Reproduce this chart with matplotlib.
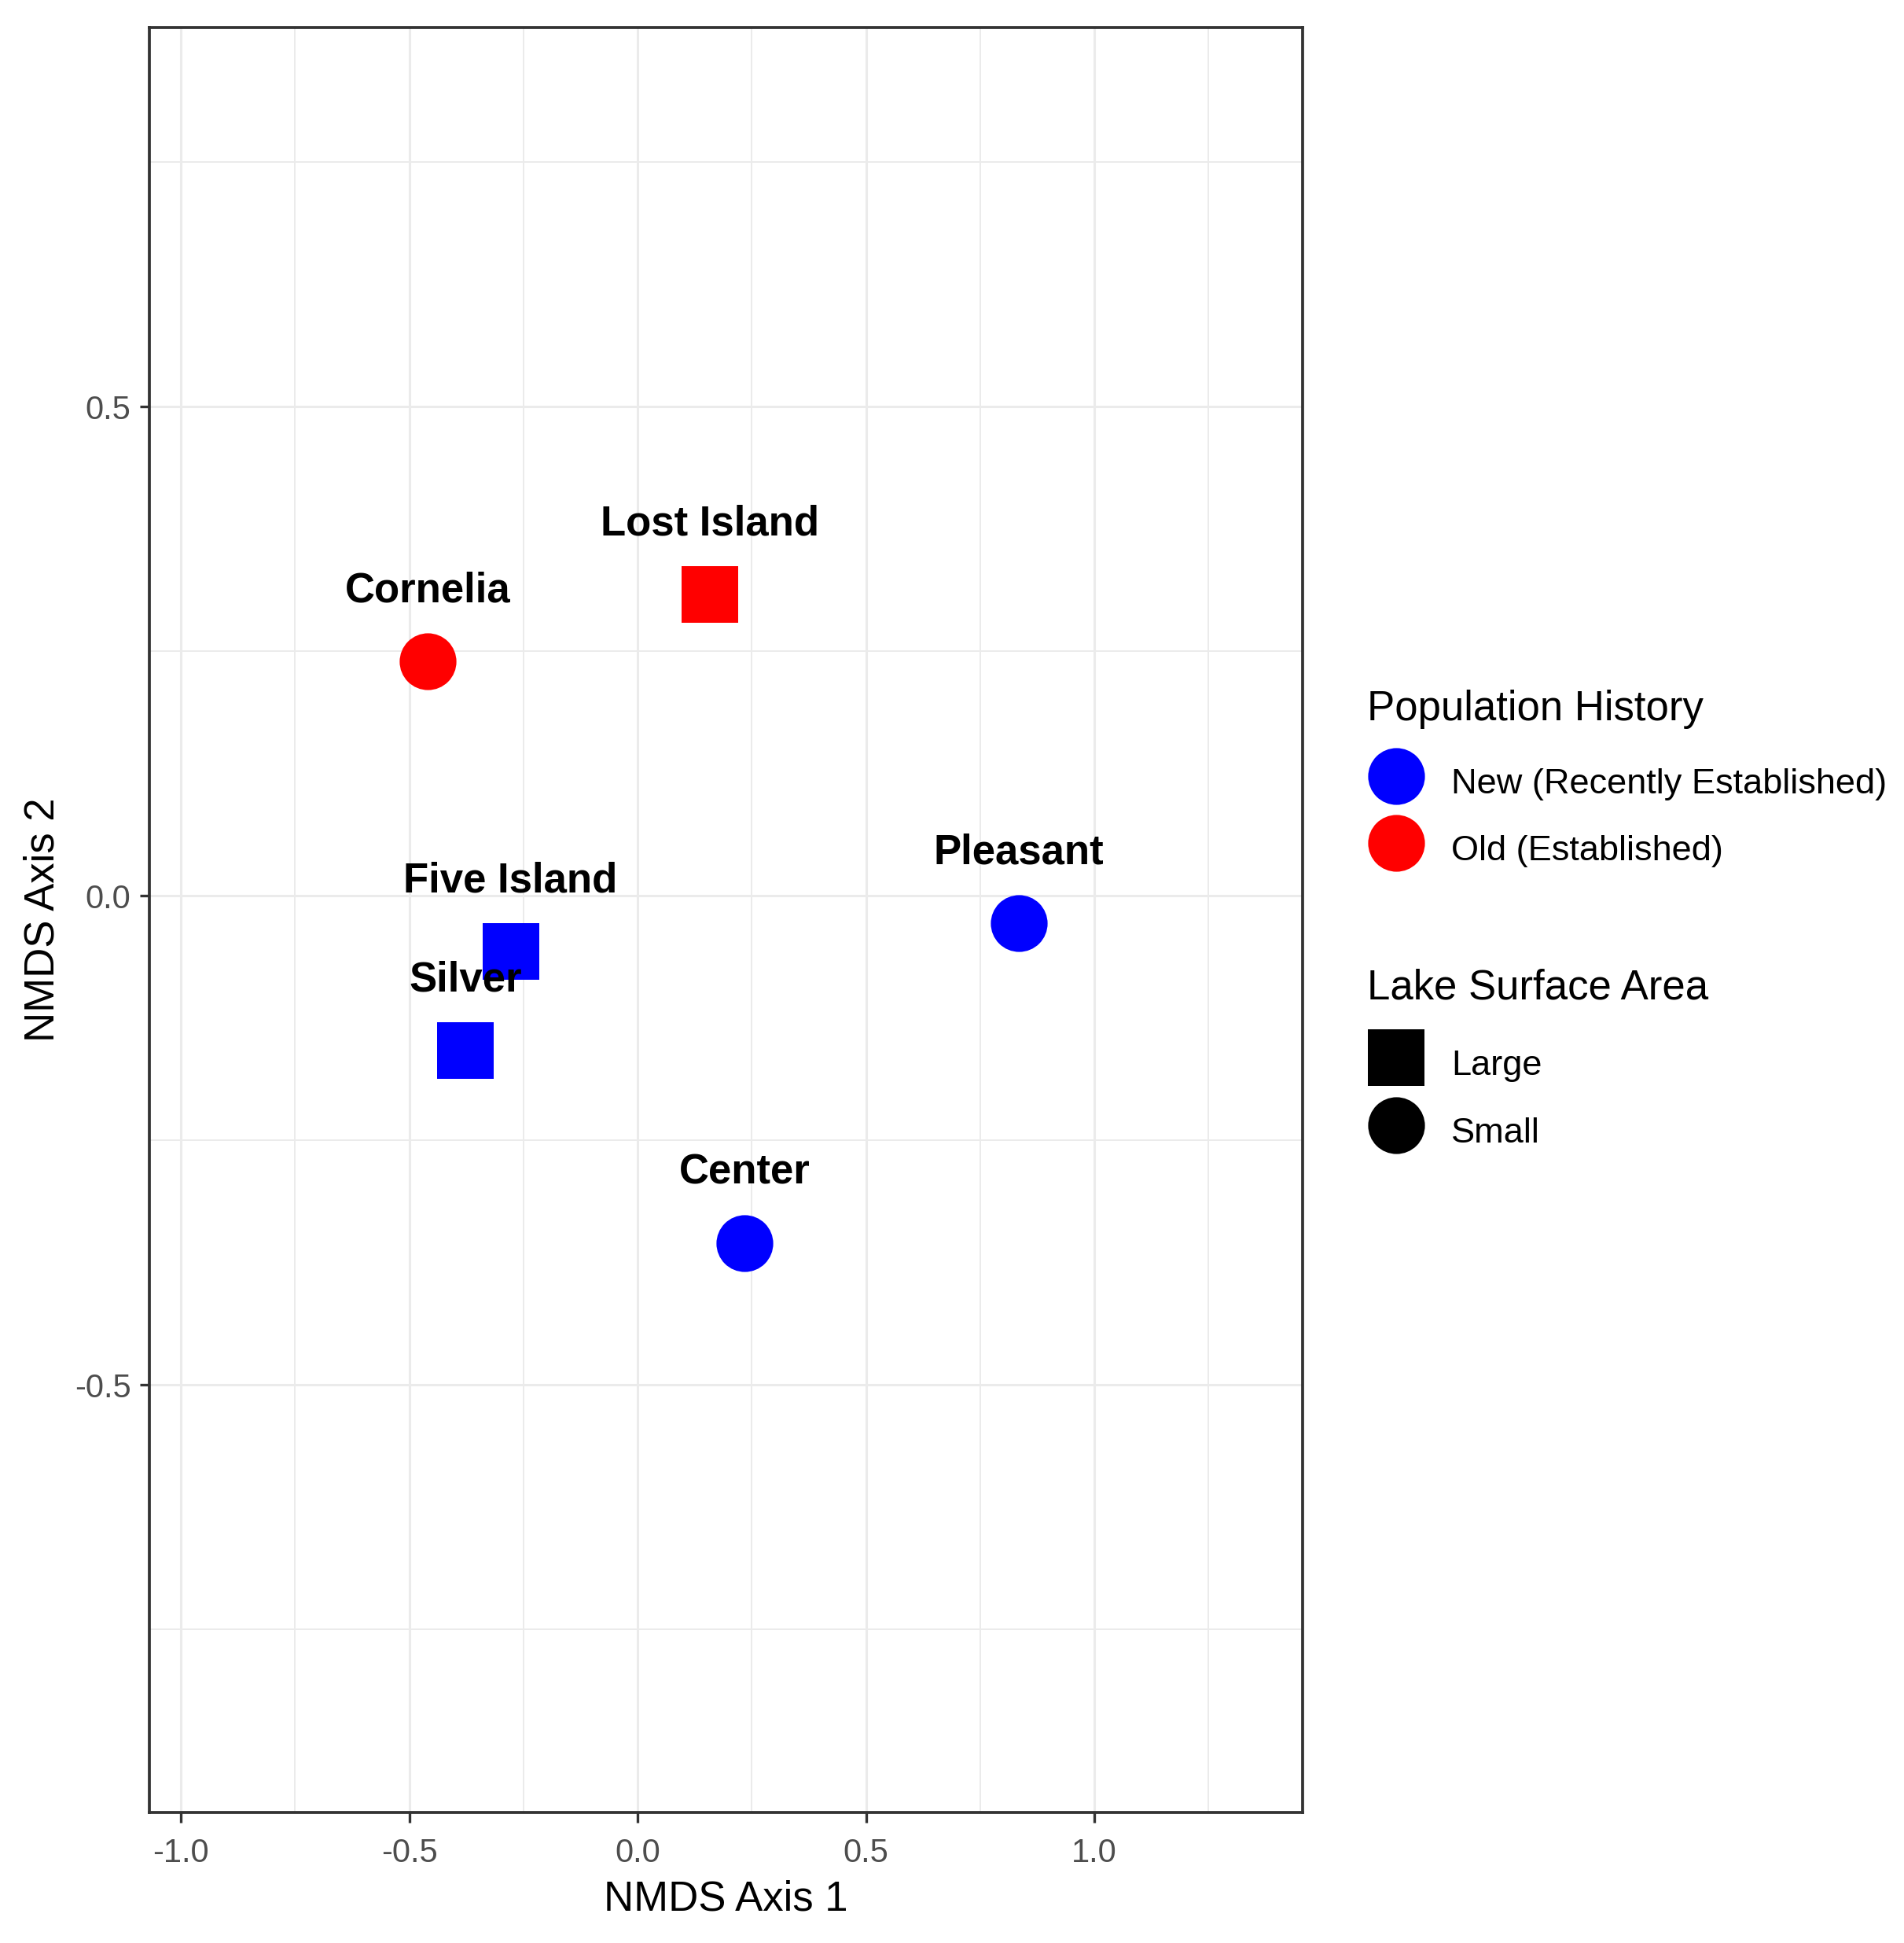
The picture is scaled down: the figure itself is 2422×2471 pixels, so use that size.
import matplotlib
matplotlib.use('Agg')
import matplotlib.pyplot as plt
from matplotlib.lines import Line2D
from matplotlib.ticker import FixedLocator, FormatStrFormatter

lakes = ['Cornelia', 'Lost Island', 'Five Island', 'Silver', 'Pleasant', 'Center']
nmds1 = [-0.460, 0.159, -0.278, -0.377, 0.834, 0.234]
nmds2 = [0.240, 0.308, -0.057, -0.158, -0.028, -0.355]
history = ['Old', 'Old', 'New', 'New', 'New', 'New']
area = ['Small', 'Large', 'Large', 'Large', 'Small', 'Small']

history_colors = {'New': '#0000FF', 'Old': '#FF0000'}
history_labels = {'New': 'New (Recently Established)', 'Old': 'Old (Established)'}
area_markers = {'Large': 's', 'Small': 'o'}

plt.rcParams['font.family'] = ['Liberation Sans', 'DejaVu Sans']
plt.rcParams['axes.unicode_minus'] = False

fig = plt.figure(figsize=(24.22, 24.71), dpi=100)
ax = fig.add_axes([0.0785, 0.0672, 0.6057, 0.9187])

# grid like theme_bw
ax.set_xlim(-1.0687, 1.456)
ax.set_ylim(-0.937, 0.888)
ax.xaxis.set_major_locator(FixedLocator([-1.0, -0.5, 0.0, 0.5, 1.0]))
ax.xaxis.set_minor_locator(FixedLocator([-0.75, -0.25, 0.25, 0.75, 1.25]))
ax.yaxis.set_major_locator(FixedLocator([-0.5, 0.0, 0.5]))
ax.yaxis.set_minor_locator(FixedLocator([-0.75, -0.25, 0.25, 0.75]))
ax.xaxis.set_major_formatter(FormatStrFormatter('%.1f'))
ax.yaxis.set_major_formatter(FormatStrFormatter('%.1f'))
ax.grid(True, which='major', color='#EBEBEB', linewidth=2.2)
ax.grid(True, which='minor', color='#EBEBEB', linewidth=1.4)
ax.set_axisbelow(True)

for sp in ax.spines.values():
    sp.set_color('#333333')
    sp.set_linewidth(2.7)

ax.tick_params(which='major', length=9, width=2.4, color='#333333',
               labelsize=30, labelcolor='#4D4D4D')
ax.tick_params(axis='x', which='major', pad=14)
ax.tick_params(axis='y', which='major', pad=8)
ax.tick_params(which='minor', length=0)

# points
for x, y, h, a in zip(nmds1, nmds2, history, area):
    ax.plot(x, y, linestyle='none', marker=area_markers[a], markersize=52,
            markerfacecolor=history_colors[h], markeredgewidth=0, zorder=3)

# lake names
for name, x, y in zip(lakes, nmds1, nmds2):
    ax.text(x, y + 0.061, name, ha='center', va='baseline', fontsize=38,
            fontweight='bold', color='black', zorder=4)

ax.set_xlabel('NMDS Axis 1', fontsize=38, labelpad=10)
ax.set_ylabel('NMDS Axis 2', fontsize=38, labelpad=11)

# legends
leg_kw = dict(loc='upper left', frameon=False, borderpad=0, borderaxespad=0,
              alignment='left', fontsize=32.5, title_fontsize=38,
              handlelength=1.62, handleheight=1.61, handletextpad=0.76,
              labelspacing=0.6)

hist_handles = [Line2D([], [], linestyle='none', marker='o', markersize=52,
                       markerfacecolor=history_colors[k], markeredgewidth=0)
                for k in ['New', 'Old']]
leg1 = fig.legend(hist_handles, [history_labels[k] for k in ['New', 'Old']],
                  title='Population History', bbox_to_anchor=(0.718, 0.645), **leg_kw)

area_handles = [Line2D([], [], linestyle='none', marker=area_markers[k], markersize=52,
                       markerfacecolor='black', markeredgewidth=0)
                for k in ['Large', 'Small']]
leg2 = fig.legend(area_handles, ['Large', 'Small'],
                  title='Lake Surface Area', bbox_to_anchor=(0.718, 0.5016), **leg_kw)

# more room between legend title and keys
for leg in (leg1, leg2):
    leg._legend_box.sep = 27
leg2._legend_box.sep = 30

plt.savefig('out.png', dpi=100)
